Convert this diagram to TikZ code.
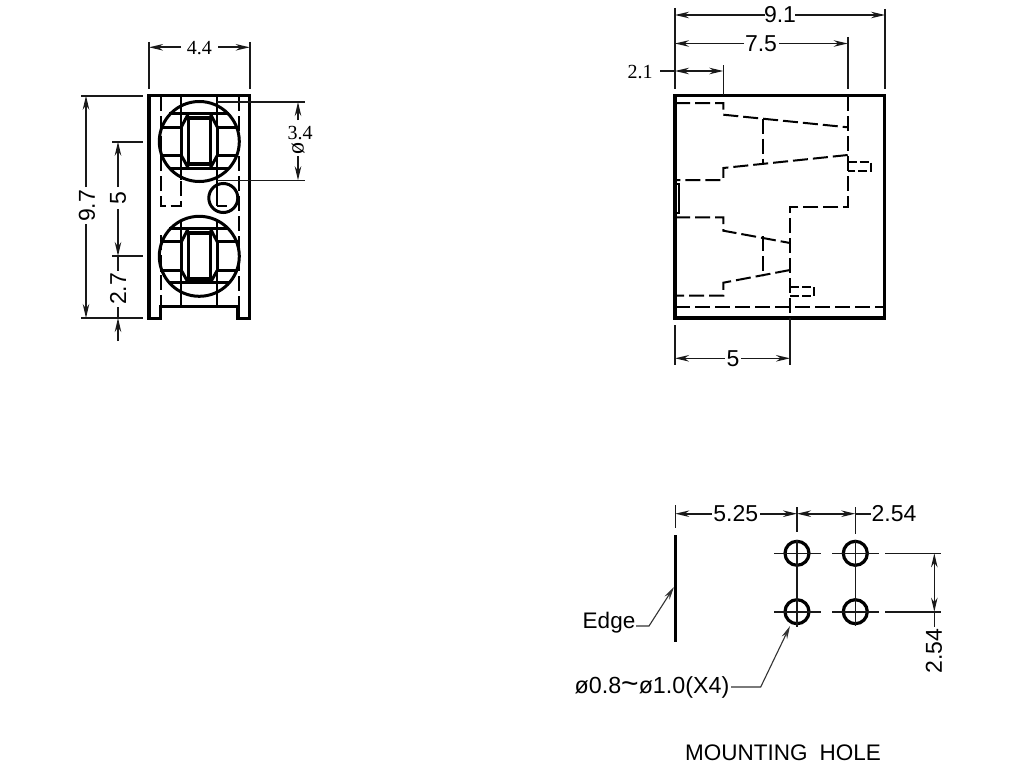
\documentclass[tikz,border=0pt]{standalone}
\usepackage{fontspec}
\setmainfont{Liberation Sans}
\newfontfamily\serifdim{Liberation Serif}
\usetikzlibrary{arrows.meta}
\tikzset{
  dimline/.style={line width=1.6pt,black!90},
  dimarrow/.style={line width=1.6pt,black!90,{Stealth[length=14pt,width=6.5pt]}-{Stealth[length=14pt,width=6.5pt]}},
  endarrow/.style={line width=1.6pt,black!90,-{Stealth[length=14pt,width=6.5pt]}},
  leadarrow/.style={line width=1.1pt,black!80,-{Stealth[length=13pt,width=6pt]}},
  bodyline/.style={line width=3.4pt,black,line join=miter},
  midline/.style={line width=3pt,black},
  hiddenline/.style={line width=2pt,black,dash pattern=on 15pt off 5pt},
  pinline/.style={line width=2pt,black,dash pattern=on 9pt off 3pt},
  holeline/.style={line width=3.2pt,black},
  sanslabel/.style={inner sep=0pt,font=\fontsize{23}{23}\selectfont},
  seriflabel/.style={inner sep=0pt,font=\serifdim\fontsize{20}{20}\selectfont},
  smalllabel/.style={inner sep=0pt,font=\fontsize{22.5}{23}\selectfont},
}
\begin{document}
\begin{tikzpicture}[x=1pt,y=-1pt]
\useasboundingbox[fill=white] (0,0) rectangle (1024,768);

%% ---------- Front view ----------
\draw[bodyline] (160.7,306.7) -- (160.7,318.5) -- (149,318.5) -- (149,95.7) -- (249.7,95.7) -- (249.7,318.5) -- (238,318.5) -- (238,306.7) -- cycle;
\draw[line width=1.7pt] (180.7,96) -- (180.7,180) (217.3,96) -- (217.3,206.3);
\draw[line width=1.7pt] (180.7,222) -- (180.7,306.7) (217.3,222) -- (217.3,306.7);
\draw[hiddenline] (160.7,96) -- (160.7,206) -- (180.7,206) -- (180.7,180);
\draw[hiddenline] (160.7,235) -- (160.7,306.7);
\draw[hiddenline] (238.5,96) -- (238.5,306.7);
\foreach \cy in {141.5,256.3}{
  \begin{scope}[shift={(199.3,\cy)}]
    \draw[midline] (0,0) circle[radius=40];
    \draw[midline] (-30,-27.7) -- (30,-27.7) (-30,26.5) -- (30,26.5);
    \draw[midline] (-39,-14.5) -- (-18,-14.5) -- (-18,14) -- (-39,14);
    \draw[midline] (39,-14.5) -- (18,-14.5) -- (18,14) -- (39,14);
    \draw[midline] (-11,-27.7) -- (-18,-14.5) (-18,14) -- (-11,26.5);
    \draw[midline] (11,-27.7) -- (18,-14.5) (18,14) -- (11,26.5);
    \draw[line width=3.4pt] (-11,-23.5) rectangle (11,22.5);
  \end{scope}
}
\node[circle,minimum size=29pt,inner sep=0pt,line width=3pt,draw] (pin) at (223.3,198) {};
\draw[line width=1.7pt] (217.3,206.3) -- (227,206.3);

\coordinate (wA) at (149,47.3);
\coordinate (wB) at (249.7,47.3);
\draw[dimline] (149,42) -- (149,89) (249.7,42) -- (249.7,89);
\node[seriflabel] (lblw) at (199.3,48) {4.4};
\draw[endarrow] (181,47.3) -- (wA);
\draw[endarrow] (218,47.3) -- (wB);

\draw[dimline] (81,95.7) -- (143,95.7) (81,318) -- (143,318);
\node[sanslabel,rotate=90] (lblh) at (87,206) {9.7};
\coordinate (hA) at (86,95.7);
\coordinate (hB) at (86,318);
\draw[endarrow] (86,187) -- (hA);
\draw[endarrow] (86,224) -- (hB);

\draw[dimline] (112,141.7) -- (143,141.7) (112,256) -- (143,256);
\node[sanslabel,rotate=90] (lblp) at (118,198) {5};
\coordinate (pA) at (118,141.7);
\coordinate (pB) at (118,256);
\draw[endarrow] (118,187) -- (pA);
\draw[endarrow] (118,209) -- (pB);
\node[sanslabel,rotate=90] (lbls) at (118,289) {2.7};
\coordinate (sB) at (118,318);
\draw[dimline] (118,256) -- (118,271);
\draw[dimline] (118,307) -- (118,318);
\draw[endarrow] (118,341) -- (sB);

\draw[dimline] (217.3,102) -- (305,102) (217.3,180.3) -- (305,180.3);
\node[seriflabel] (lbld) at (300,133) {3.4};
\node[seriflabel,rotate=90,font=\serifdim\fontsize{24}{24}\selectfont] (lbldd) at (298,148) {ø};
\coordinate (dA) at (298,102);
\coordinate (dB) at (298,180.3);
\draw[endarrow] (298,120) -- (dA);
\draw[endarrow] (298,156) -- (dB);

%% ---------- Side view ----------
\draw[bodyline] (675,95.7) rectangle (884.5,318);
\draw[hiddenline] (675,103) -- (723.3,103) -- (723.3,114.7) -- (847.7,127.3);
\draw[hiddenline] (847.7,155) -- (723.3,168) -- (723.3,180) -- (675,180);
\draw[hiddenline] (762.7,118.5) -- (762.7,163.5);
\draw[hiddenline] (847.7,96) -- (847.7,206.7) -- (790,206.7) -- (790,318);
\draw[pinline] (847.7,161.7) -- (870.7,161.7) -- (870.7,171) -- (847.7,171);
\draw[line width=1.5pt] (675,184) -- (679,184) -- (679,213) -- (675,213);
\draw[hiddenline] (675,217.3) -- (723.3,217.3) -- (723.3,230.7) -- (790,243);
\draw[hiddenline] (790,270) -- (723.3,282.7) -- (723.3,295.7) -- (675,295.7);
\draw[hiddenline] (762.7,236) -- (762.7,276);
\draw[pinline] (790,286.7) -- (813.7,286.7) -- (813.7,296) -- (790,296);
\draw[hiddenline] (675,306.7) -- (884.5,306.7);

\draw[dimline] (675,8) -- (675,89) (885,9) -- (885,89) (847.7,37) -- (847.7,89) (723.3,65) -- (723.3,95);
\node[sanslabel] (lblA) at (780,15) {9.1};
\coordinate (aL) at (675,15);
\coordinate (aR) at (885,15);
\draw[endarrow] (765,15) -- (aL);
\draw[endarrow] (795,15) -- (aR);
\node[sanslabel] (lblB) at (761,44) {7.5};
\coordinate (bL) at (675,43.5);
\coordinate (bR) at (847.7,43.5);
\draw[endarrow] (744,43.5) -- (bL);
\draw[endarrow] (779,43.5) -- (bR);
\node[seriflabel] (lblC) at (640,72) {2.1};
\coordinate (cL) at (675,71);
\coordinate (cR) at (723.3,71);
\draw[dimarrow] (cL) -- (cR);
\draw[dimline] (660,71) -- (cL);

\draw[dimline] (675,325) -- (675,365) (790,318) -- (790,365);
\node[sanslabel] (lblD) at (733,358.3) {5};
\coordinate (dL) at (675,358.3);
\coordinate (dR) at (790,358.3);
\draw[endarrow] (725,358.3) -- (dL);
\draw[endarrow] (741,358.3) -- (dR);

%% ---------- Mounting hole ----------
\draw[line width=2.6pt] (675.3,535) -- (675.3,642);
\foreach \hx/\hy/\hn in {797/553.3/ha,855.3/553.3/hb,797/611.7/hc,855.3/611.7/hd}{
  \node[circle,minimum size=24pt,inner sep=0pt,holeline,draw] (\hn) at (\hx,\hy) {};
}
\draw[dimline] (774,553.3) -- (820.7,553.3) (832,553.3) -- (879,553.3);
\draw[dimline] (774,611.7) -- (820.7,611.7) (832,611.7) -- (879,611.7);
\draw[dimline] (797,540) -- (797,627) (855.3,540) -- (855.3,626);
\draw[dimline] (797,507) -- (797,532) (855.3,507) -- (855.3,534) (675.3,505) -- (675.3,528);
\draw[dimline] (885,553.3) -- (940.7,553.3) (885,611.7) -- (940.7,611.7);

\node[sanslabel] (lblE) at (735.7,514) {5.25};
\coordinate (eL) at (675.3,513.7);
\coordinate (eR) at (797,513.7);
\coordinate (eT) at (855.3,513.7);
\draw[endarrow] (712,513.7) -- (eL);
\draw[endarrow] (760,513.7) -- (eR);
\draw[dimarrow] (eR) -- (eT);
\node[sanslabel] (lblF) at (894,514) {2.54};
\draw[dimline] (eT) -- (871,513.7);
\coordinate (fT) at (934.3,553.3);
\coordinate (fB) at (934.3,611.7);
\draw[dimarrow] (fT) -- (fB);
\draw[dimline] (fB) -- (934.3,627);
\node[sanslabel,rotate=90] (lblG) at (934,651) {2.54};

\node[smalllabel] (lblEdge) at (609,622.5) {Edge};
\coordinate (edgeTip) at (674,587);
\draw[leadarrow] (636,626) -- (649,626) -- (edgeTip);
\node[smalllabel,font=\fontsize{23.3}{24}\selectfont] (lblHole) at (652,687) {ø0.8{\fontsize{30}{30}\selectfont\char`\~}ø1.0(X4)};
\coordinate (holeTip) at (790,626);
\draw[leadarrow] (731,687) -- (760.7,687) -- (holeTip);
\node[smalllabel] (lblMount) at (783,753) {MOUNTING\hspace{12pt}HOLE};
\end{tikzpicture}
\end{document}
